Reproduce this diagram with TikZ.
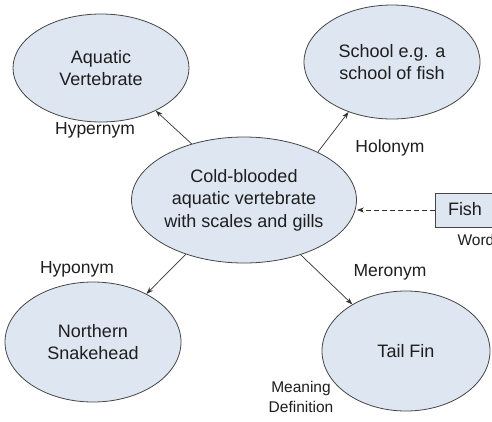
\documentclass[tikz,border=0pt]{standalone}
\usepackage{fontspec}
\setmainfont{Liberation Sans}
\usetikzlibrary{shapes.geometric,arrows.meta}
\definecolor{efill}{RGB}{221,230,241}
\definecolor{edraw}{RGB}{70,70,70}
\definecolor{txt}{RGB}{30,30,30}
\tikzset{
  concept/.style={ellipse, draw=edraw, line width=0.8pt, fill=efill, inner sep=0pt,
    align=center, text=txt, font=\fontsize{18}{22.5}\selectfont},
  rel/.style={text=txt, font=\fontsize{17.5}{21}\selectfont},
  small/.style={text=txt, font=\fontsize{15.5}{19.5}\selectfont, align=center},
  link/.style={draw=black!80, line width=0.7pt, -{Stealth[length=7pt,width=5pt]}},
}
\begin{document}
\begin{tikzpicture}[x=1pt,y=-1pt]
\useasboundingbox (0,0) rectangle (492,421);
\node[concept, minimum width=176pt, minimum height=108pt] (aqua) at (101,68) {Aquatic\\Vertebrate};
\node[concept, minimum width=176pt, minimum height=114pt] (school) at (392,62) {School e.g. a\\school of fish};
\node[concept, minimum width=190pt, minimum height=126pt] (c) at (244,200) {Cold-blooded\\aquatic vertebrate\\with scales and gills};
\node[concept, minimum width=176pt, minimum height=120pt] (snake) at (93,342) {Northern\\Snakehead};
\node[concept, minimum width=168pt, minimum height=120pt] (tail) at (406,351) {Tail Fin};
\node[draw=edraw, line width=0.8pt, fill=efill, minimum width=76pt, minimum height=34pt, inner sep=0pt] (fishbox) at (473,210) {};
\node[text=txt, font=\fontsize{18}{22}\selectfont] (fish) at (465,209) {Fish};
\node[text=txt, font=\fontsize{15.5}{19}\selectfont, anchor=base west] (word) at (454,245) {Word};
\node[rel] (hyper) at (95,130) {Hypernym};
\node[rel] (holo) at (390,148) {Holonym};
\node[rel] (hypo) at (77,269) {Hyponym};
\node[rel] (mero) at (390,272) {Meronym};
\node[small] (mean) at (301,397) {Meaning\\Definition};
\draw[link] (c.133) -- (aqua.-38);
\draw[link] (c.33) -- (school.229);
\draw[link] (c.223) -- (snake.42);
\draw[link] (c.-44) -- (tail.139);
\draw[link, dashed, dash pattern=on 5pt off 3pt] (fishbox.west) -- (c.east |- fishbox.west);
\end{tikzpicture}
\end{document}
